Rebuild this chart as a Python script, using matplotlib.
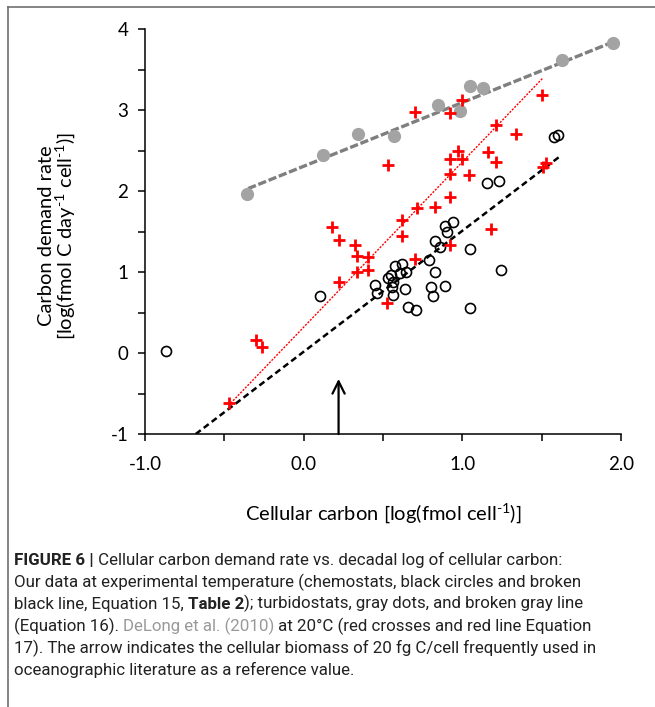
import numpy as np
import matplotlib
matplotlib.use('Agg')
import matplotlib.pyplot as plt
from matplotlib.ticker import MultipleLocator, FormatStrFormatter

plt.rcParams['axes.unicode_minus'] = False
plt.rcParams['mathtext.fontset'] = 'custom'
plt.rcParams['mathtext.rm'] = 'Lato'
plt.rcParams['mathtext.it'] = 'Lato'

# chemostats (black open circles)
chemo_x = [-0.87, 0.10, 0.45, 0.46, 0.53, 0.55, 0.56, 0.555, 0.565, 0.575, 0.605, 0.62,
           0.648, 0.64, 0.655, 0.705, 0.79, 0.80, 0.816, 0.83, 0.826, 0.86, 0.89, 0.89,
           0.905, 0.94, 1.05, 1.05, 1.157, 1.23, 1.245, 1.58, 1.60]
chemo_y = [0.03, 0.70, 0.84, 0.74, 0.92, 0.96, 0.88, 0.81, 0.71, 1.07, 0.99, 1.10,
           1.00, 0.79, 0.57, 0.53, 1.15, 0.82, 0.70, 1.00, 1.38, 1.31, 0.83, 1.57,
           1.49, 1.62, 1.28, 0.56, 2.10, 2.12, 1.02, 2.67, 2.69]

# turbidostats (gray dots)
turbi_x = [-0.36, 0.124, 0.345, 0.568, 0.848, 0.987, 1.05, 1.13, 1.63, 1.95]
turbi_y = [1.96, 2.45, 2.70, 2.68, 3.06, 2.99, 3.30, 3.27, 3.62, 3.83]

# DeLong et al. (2010) (red crosses)
delong_x = [1.00, 0.70, 0.92, 1.50, 1.21, 1.34, 0.53, 0.97, 0.92, 1.00, 1.16, 1.21,
            0.92, 1.04, 1.51, 1.53, 0.925, 0.715, 0.83, 0.62, 0.62, 0.177, 1.18, 0.223,
            0.322, 0.337, 0.406, 0.337, 0.406, 0.223, 0.70, 0.925, 0.526, -0.30, -0.26, -0.47]
delong_y = [3.12, 2.98, 2.96, 3.19, 2.81, 2.70, 2.32, 2.50, 2.39, 2.40, 2.48, 2.36,
            2.21, 2.20, 2.30, 2.34, 1.93, 1.79, 1.80, 1.64, 1.45, 1.55, 1.53, 1.40,
            1.33, 1.20, 1.18, 1.00, 1.03, 0.88, 1.16, 1.33, 0.62, 0.16, 0.08, -0.62]

# fitted lines (end points)
chemo_fit_x = [-0.68, 1.61]
chemo_fit_y = [-1.0, 2.42]
turbi_fit_x = [-0.35, 1.95]
turbi_fit_y = [2.03, 3.84]
delong_fit_x = [-0.46, 1.51]
delong_fit_y = [-0.62, 3.40]

# 20 fg C/cell reference
ref_x = 0.22
ref_y = [-1.0, -0.32]

fig = plt.figure(figsize=(6.55, 7.07), dpi=100)
ax = fig.add_axes([145/655, 273/707, 476/655, 405/707])

ax.plot(turbi_fit_x, turbi_fit_y, color='#7f7f7f', lw=2.4, dashes=(2.5, 0.8), zorder=2)
ax.plot(chemo_fit_x, chemo_fit_y, color='black', lw=1.8, dashes=(2.5, 1.5), zorder=2)
ax.plot(delong_fit_x, delong_fit_y, color='red', lw=1.0, dashes=(1.5, 1.0), zorder=2)

ax.plot(turbi_x, turbi_y, 'o', ms=8.5, color='#a3a3a3', mec='#a3a3a3', zorder=3)
ax.plot(chemo_x, chemo_y, 'o', ms=7.2, mfc='none', mec='black', mew=1.2, zorder=3)
ax.plot(delong_x, delong_y, '+', ms=9, color='red', mew=2.0, zorder=4)

ax.annotate('', xy=(ref_x, ref_y[1]), xytext=(ref_x, ref_y[0]),
            arrowprops=dict(arrowstyle='->', color='black', lw=1.6,
                            mutation_scale=22, shrinkA=0, shrinkB=0))

ax.set_xlim(-1, 2)
ax.set_ylim(-1, 4)
ax.spines['top'].set_visible(False)
ax.spines['right'].set_visible(False)
ax.spines['left'].set_linewidth(1.1)
ax.spines['bottom'].set_linewidth(1.1)

ax.xaxis.set_major_locator(MultipleLocator(1.0))
ax.xaxis.set_minor_locator(MultipleLocator(0.5))
ax.xaxis.set_major_formatter(FormatStrFormatter('%.1f'))
ax.yaxis.set_major_locator(MultipleLocator(1))
ax.yaxis.set_minor_locator(MultipleLocator(0.5))
ax.tick_params(which='both', direction='out', length=5, width=1.1, labelsize=13.5)
ax.tick_params(axis='x', pad=11)
ax.tick_params(axis='y', pad=7)
for lab in ax.get_xticklabels() + ax.get_yticklabels():
    lab.set_fontfamily('Lato')

ax.set_xlabel(r'Cellular carbon [log(fmol cell$^{\text{-1}}$)]', fontsize=14.5, family='Lato',
              labelpad=20)
ax.set_ylabel('Carbon demand rate\n' + r'[log(fmol C day$^{\text{-1}}$ cell$^{\text{-1}}$)]',
              fontsize=14.5, family='Lato', linespacing=0.95)
ax.yaxis.set_label_coords(-0.142, 0.49)

# frame lines on top and left
fig.add_artist(plt.Line2D([8/655, 1], [1 - 7/707, 1 - 7/707], color='#707070', lw=1.2))
fig.add_artist(plt.Line2D([8/655, 8/655], [0, 1 - 7/707], color='#707070', lw=1.2))

# caption
caption = [
    [('FIGURE 6 |', 'bold', '#222222'), (' Cellular carbon demand rate vs. decadal log of cellular carbon:', 'normal', '#222222')],
    [('Our data at experimental temperature (chemostats, black circles and broken', 'normal', '#222222')],
    [('black line, Equation 15, ', 'normal', '#222222'), ('Table 2', 'bold', '#222222'),
     ('); turbidostats, gray dots, and broken gray line', 'normal', '#222222')],
    [('(Equation 16). ', 'normal', '#222222'), ('DeLong et al. (2010)', 'normal', '#999999'),
     (' at 20\u00b0C (red crosses and red line Equation', 'normal', '#222222')],
    [('17). The arrow indicates the cellular biomass of 20 fg C/cell frequently used in', 'normal', '#222222')],
    [('oceanographic literature as a reference value.', 'normal', '#222222')],
]
y0 = 707 - 565
for i, line in enumerate(caption):
    prev = None
    for txt, weight, col in line:
        if prev is None:
            prev = fig.text(14/655, (y0 - i*22)/707, txt, fontsize=12.2, family='Roboto',
                            weight=weight, color=col, va='baseline', ha='left')
        else:
            prev = ax.annotate(txt, xy=(1, 0), xycoords=prev, fontsize=12.2, family='Roboto',
                               weight=weight, color=col, va='bottom', ha='left',
                               annotation_clip=False)

fig.savefig('out.png', dpi=100)
